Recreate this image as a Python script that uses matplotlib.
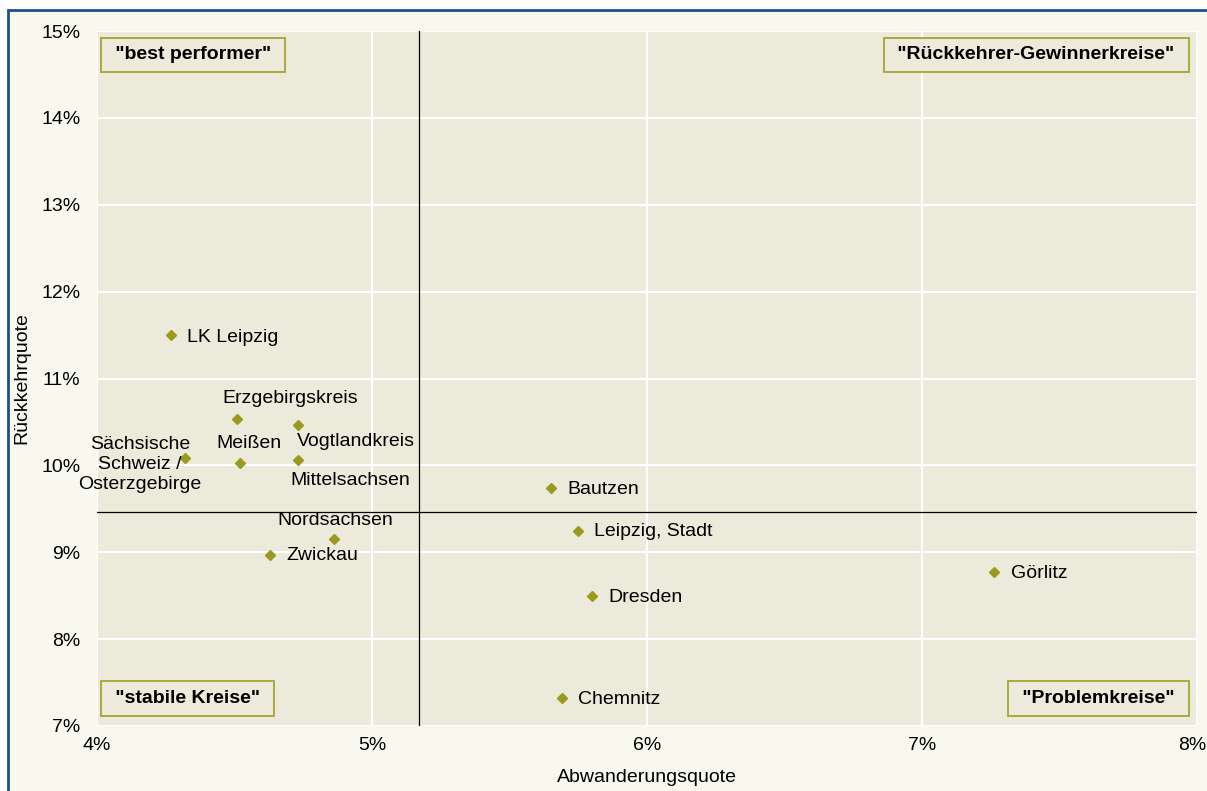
import matplotlib.pyplot as plt
from matplotlib.patches import Rectangle
from matplotlib.ticker import FuncFormatter
from matplotlib.transforms import ScaledTranslation

plt.rcParams['font.family'] = ['Liberation Sans', 'DejaVu Sans']

kreise = ['LK Leipzig', 'Erzgebirgskreis', 'Vogtlandkreis',
          'Sächsische\nSchweiz /\nOsterzgebirge', 'Meißen', 'Mittelsachsen',
          'Bautzen', 'Nordsachsen', 'Leipzig, Stadt', 'Zwickau',
          'Görlitz', 'Dresden', 'Chemnitz']
abwanderung = [4.27, 4.51, 4.73, 4.32, 4.52, 4.73, 5.65, 4.86, 5.75, 4.63, 7.26, 5.80, 5.69]
rueckkehr = [11.50, 10.53, 10.47, 10.08, 10.03, 10.06, 9.74, 9.15, 9.25, 8.97, 8.77, 8.50, 7.32]
mittel_abw = 5.17
mittel_rueck = 9.46
quadranten = ['"best performer"', '"Rückkehrer-Gewinnerkreise"',
              '"stabile Kreise"', '"Problemkreise"']

# label offsets in pixels (x, y), horizontal alignment
offsets = [(16, -2, 'left'), (53, 21, 'center'), (-1, -17, 'left'),
           (-45, -6, 'center'), (9, 19, 'center'), (52, -20, 'center'),
           (17, -2, 'left'), (2, 19, 'center'), (16, -1, 'left'),
           (16, -1, 'left'), (18, -1, 'left'), (16, -2, 'left'), (16, -1, 'left')]

fig = plt.figure(figsize=(12.07, 7.91), dpi=100, facecolor='white')
fig.patches.append(Rectangle((8 / 1207, -0.1), 1.2, 1 - 10 / 791 + 0.1,
                             transform=fig.transFigure, facecolor='#F8F8EE',
                             edgecolor='#1F4E8C', linewidth=2, zorder=-10))
ax = fig.add_axes([97 / 1207, 65 / 791, 1100 / 1207, 695 / 791])
ax.set_facecolor('#ECEADB')
for s in ax.spines.values():
    s.set_visible(False)

ax.set_xlim(4, 8)
ax.set_ylim(7, 15)
ax.set_xticks(range(4, 9))
ax.set_yticks(range(7, 16))
ax.xaxis.set_major_formatter(FuncFormatter(lambda v, p: f'{v:.0f}%'))
ax.yaxis.set_major_formatter(FuncFormatter(lambda v, p: f'{v:.0f}%'))
ax.tick_params(length=0, labelsize=14, colors='black')
ax.tick_params(axis='y', pad=12)
ax.tick_params(axis='x', pad=8)
ax.grid(True, color='white', linewidth=1.5)
ax.set_axisbelow(True)

# nudge last x tick label so it stays inside the picture
last = ax.get_xticklabels()[-1]
last.set_transform(last.get_transform() + ScaledTranslation(-0.05, 0, fig.dpi_scale_trans))

ax.axvline(mittel_abw, color='black', linewidth=0.9)
ax.axhline(mittel_rueck, color='black', linewidth=0.9)

ax.plot(abwanderung, rueckkehr, linestyle='none', marker='D', markersize=5.5,
        color='#9A9A1E', zorder=3)

for name, x, y, (dx, dy, ha) in zip(kreise, abwanderung, rueckkehr, offsets):
    ax.annotate(name, (x, y), xytext=(dx, dy), textcoords='offset pixels',
                ha=ha, va='center', multialignment='center', fontsize=14,
                color='black', linespacing=1.2)

box = dict(boxstyle='square,pad=0.45', facecolor='#ECEADB', edgecolor='#A5A530', linewidth=1.3)
pos = [(0.0118, 0.9655, 'left'), (0.9845, 0.9655, 'right'),
       (0.0118, 0.0396, 'left'), (0.9845, 0.0396, 'right')]
for t, (x, y, ha) in zip(quadranten, pos):
    ax.text(x, y, ' ' + t + ' ', transform=ax.transAxes, ha=ha, va='center',
            fontsize=14, fontweight='bold', color='black', bbox=box)

ax.set_xlabel('Abwanderungsquote', fontsize=14)
ax.set_ylabel('Rückkehrquote', fontsize=14)
ax.xaxis.set_label_coords(0.5, -0.0625)
ax.yaxis.set_label_coords(-0.061, 0.5)

fig.savefig('out.png', dpi=100, facecolor=fig.get_facecolor())
